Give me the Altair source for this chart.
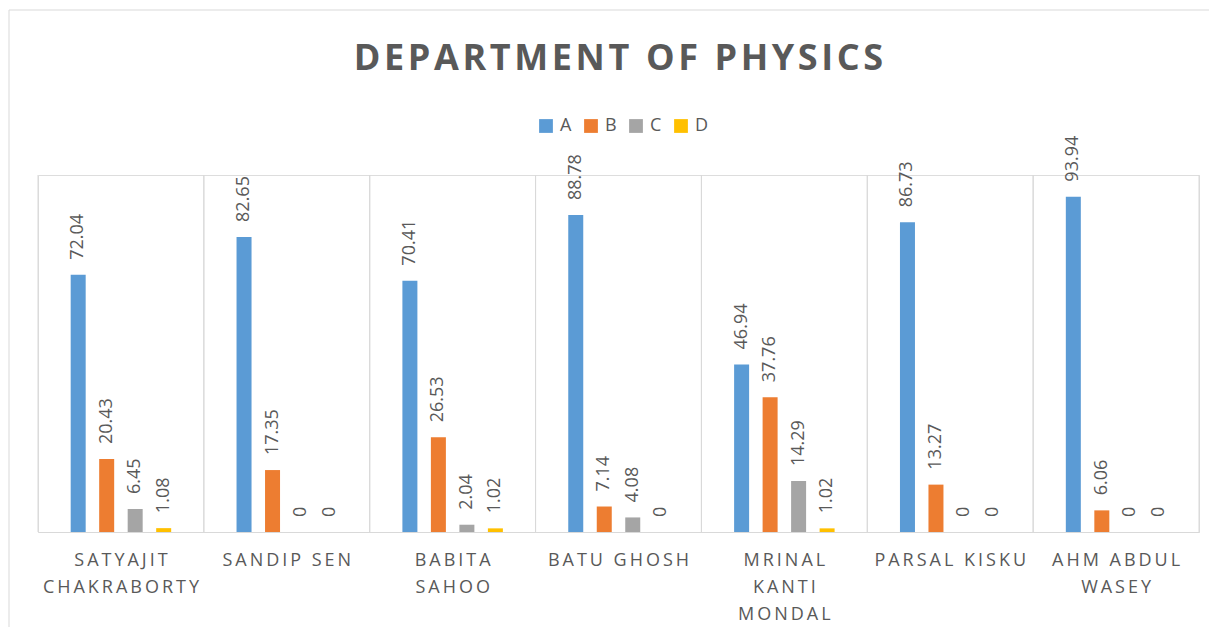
import altair as alt
import pandas as pd

students = ["SATYAJIT CHAKRABORTY", "SANDIP SEN", "BABITA SAHOO", "BATU GHOSH",
            "MRINAL KANTI MONDAL", "PARSAL KISKU", "AHM ABDUL WASEY"]
label_lines = [["SATYAJIT", "CHAKRABORTY"], ["SANDIP SEN"], ["BABITA", "SAHOO"],
               ["BATU GHOSH"], ["MRINAL", "KANTI", "MONDAL"], ["PARSAL KISKU"],
               ["AHM ABDUL", "WASEY"]]
grades = ["A", "B", "C", "D"]
grade_a = [72.04, 82.65, 70.41, 88.78, 46.94, 86.73, 93.94]
grade_b = [20.43, 17.35, 26.53, 7.14, 37.76, 13.27, 6.06]
grade_c = [6.45, 0, 2.04, 4.08, 14.29, 0, 0]
grade_d = [1.08, 0, 1.02, 0, 1.02, 0, 0]
colors = ["#5B9BD5", "#ED7D31", "#A5A5A5", "#FFC000"]
title_text = "DEPARTMENT OF PHYSICS"

TS = "\u2009"  # thin space to imitate letter spacing
HS = "\u200a"


def spaced(s, sep=TS):
    return (sep + " " + sep).join(sep.join(w) for w in s.split(" "))


display = ["|".join(spaced(l) for l in lines) for lines in label_lines]

rows = []
series = [grade_a, grade_b, grade_c, grade_d]
for i, name in enumerate(students):
    for g, vals in zip(grades, series):
        rows.append({"Name": display[i], "Student": name, "Grade": g, "Value": vals[i]})
df = pd.DataFrame(rows)
cats = pd.DataFrame({"Name": display})

TEXT = "#595959"
GRID = "#D9D9D9"
FONT = "Open Sans"

x_enc = alt.X("Name:N", sort=display,
              scale=alt.Scale(paddingInner=0, paddingOuter=0),
              axis=alt.Axis(title=None, labelExpr="split(datum.label, '|')",
                            labelAngle=0, labelAlign="center", labelFont=FONT,
                            labelFontSize=18, labelColor=TEXT, labelLineHeight=27,
                            labelPadding=19, ticks=False, grid=False, domainColor=GRID,
                            labelBaseline="top", labelOverlap=False))
xo = alt.XOffset("Grade:N", sort=grades,
                 scale=alt.Scale(paddingInner=0.18, paddingOuter=1))
y_enc = alt.Y("Value:Q", scale=alt.Scale(domain=[0, 100]), axis=None)

seps0 = alt.Chart(cats).mark_rule(color=GRID, strokeWidth=1).encode(
    x=alt.X("Name:N", sort=display, bandPosition=0))
seps1 = alt.Chart(cats).mark_rule(color=GRID, strokeWidth=1).encode(
    x=alt.X("Name:N", sort=display, bandPosition=1))

bars = alt.Chart(df).mark_bar(width=15).encode(
    x=x_enc, xOffset=xo, y=y_enc,
    color=alt.Color("Grade:N", scale=alt.Scale(domain=grades, range=colors),
                    legend=alt.Legend(title=None, orient="none", legendX=499, legendY=-58,
                                      direction="horizontal", symbolType="square",
                                      symbolSize=190, symbolStrokeWidth=0,
                                      labelFont=FONT, labelFontSize=18,
                                      labelColor=TEXT, labelOffset=5,
                                      columnPadding=10, padding=0)))

labels = alt.Chart(df).mark_text(angle=270, align="left", baseline="middle", dx=15,
                                 font=FONT, fontSize=18, color=TEXT).encode(
    x=alt.X("Name:N", sort=display), xOffset=xo, y=y_enc,
    text=alt.Text("Value:Q", format="~g"))

frame_df = pd.DataFrame({"k": [0]})
frame_top = alt.Chart(frame_df).mark_rule(color=GRID).encode(
    x=alt.value(-29), x2=alt.value(1171), y=alt.value(-165))
frame_left = alt.Chart(frame_df).mark_rule(color=GRID).encode(
    x=alt.value(-29), y=alt.value(-165), y2=alt.value(452))

chart = alt.layer(frame_top, frame_left, seps0, seps1, bars, labels).properties(
    width=1161, height=357,
    title=alt.TitleParams(HS.join(title_text),
                          font=FONT, fontSize=36, fontWeight="bold", color=TEXT,
                          anchor="middle", offset=-68),
    autosize=alt.AutoSizeParams(type="none"),
    padding={"left": 30, "top": 167, "right": 10, "bottom": 95},
).configure_view(stroke=None).configure(background="white")

chart.save("out.html", embed_options={"renderer": "svg", "actions": False})
